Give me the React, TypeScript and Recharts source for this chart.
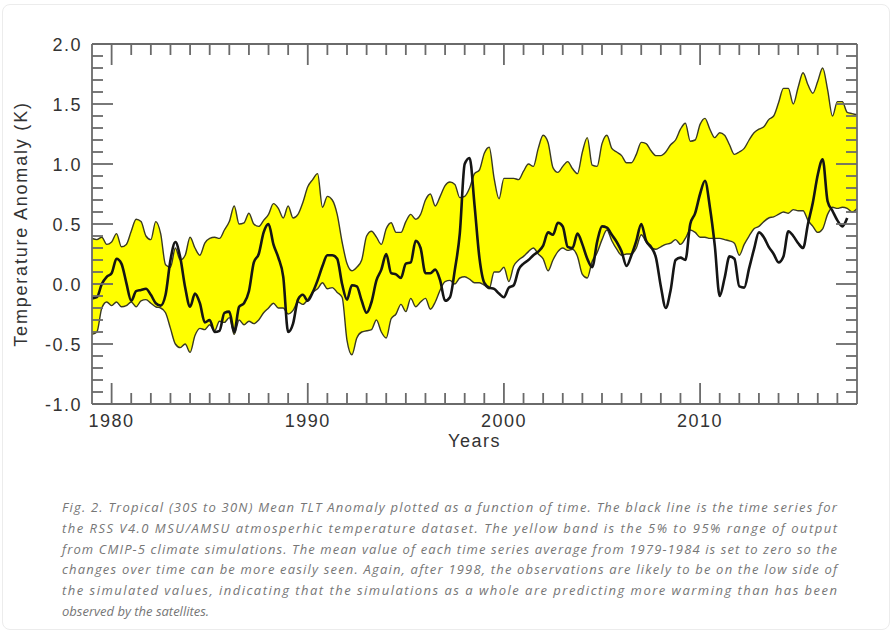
import React from 'react';
import { ComposedChart, Area, Line, XAxis, YAxis, Label } from 'recharts';

// Quarter-year samples from 1979.00 to 2018.00 (157 points)
// CMIP-5 5%-95% band: upper edge
const UPPER = [
  0.38, 0.37, 0.39, 0.33,
  0.35, 0.42, 0.31, 0.33,
  0.44, 0.54, 0.52, 0.40,
  0.37, 0.52, 0.42, 0.16,
  0.14, 0.30, 0.20, 0.24,
  0.39, 0.30, 0.24, 0.34,
  0.38, 0.39, 0.38, 0.45,
  0.52, 0.65, 0.50, 0.51,
  0.59, 0.50, 0.48, 0.53,
  0.58, 0.67, 0.63, 0.55,
  0.65, 0.55, 0.58, 0.68,
  0.81, 0.87, 0.92, 0.64,
  0.73, 0.70, 0.58, 0.35,
  0.17, 0.11, 0.14, 0.20,
  0.40, 0.44, 0.39, 0.33,
  0.46, 0.51, 0.43, 0.43,
  0.52, 0.58, 0.54, 0.58,
  0.70, 0.75, 0.65, 0.73,
  0.82, 0.85, 0.83, 0.72,
  0.73, 0.80, 0.92, 0.95,
  1.09, 1.14, 0.88, 0.71,
  0.88, 0.88, 0.88, 0.87,
  0.94, 1.00, 0.98, 1.13,
  1.24, 1.18, 0.97, 0.93,
  0.98, 1.02, 0.96, 0.92,
  1.10, 1.22, 0.99, 0.98,
  1.17, 1.24, 1.13, 1.10,
  1.07, 1.01, 1.01, 1.08,
  1.18, 1.17, 1.11, 1.07,
  1.07, 1.10, 1.16, 1.20,
  1.29, 1.34, 1.19, 1.20,
  1.33, 1.38, 1.29, 1.22,
  1.26, 1.24, 1.16, 1.08,
  1.10, 1.13, 1.20, 1.26,
  1.29, 1.31, 1.37, 1.40,
  1.51, 1.63, 1.63, 1.50,
  1.64, 1.76, 1.66, 1.59,
  1.69, 1.80, 1.62, 1.40,
  1.52, 1.52, 1.43, 1.42,
  1.41,
];

// CMIP-5 band: lower edge
const LOWER = [
  -0.42, -0.40, -0.20, -0.15,
  -0.18, -0.15, -0.19, -0.18,
  -0.15, -0.19, -0.14, -0.13,
  -0.16, -0.19, -0.20, -0.24,
  -0.37, -0.50, -0.53, -0.50,
  -0.57, -0.43, -0.37, -0.38,
  -0.34, -0.39, -0.31, -0.32,
  -0.28, -0.42, -0.30, -0.34,
  -0.31, -0.33, -0.30, -0.24,
  -0.20, -0.16, -0.20, -0.20,
  -0.25, -0.22, -0.15, -0.17,
  -0.13, -0.07, -0.04, 0.01,
  -0.04, -0.03, -0.07, -0.11,
  -0.47, -0.59, -0.45, -0.40,
  -0.39, -0.38, -0.30, -0.40,
  -0.45, -0.29, -0.25, -0.17,
  -0.23, -0.12, -0.19, -0.15,
  -0.12, -0.21, -0.15, -0.05,
  0.02, 0.03, 0.00, 0.05,
  0.06, 0.04, 0.01, 0.01,
  -0.01, -0.04, 0.10, 0.10,
  0.14, 0.02, 0.15, 0.20,
  0.23, 0.27, 0.30, 0.25,
  0.21, 0.11, 0.20, 0.27,
  0.30, 0.28, 0.29, 0.23,
  0.08, 0.05, 0.19, 0.26,
  0.37, 0.45, 0.36, 0.29,
  0.24, 0.25, 0.25, 0.30,
  0.41, 0.35, 0.30, 0.29,
  0.31, 0.33, 0.34, 0.37,
  0.33, 0.38, 0.45, 0.43,
  0.39, 0.39, 0.38, 0.38,
  0.38, 0.37, 0.36, 0.34,
  0.24, 0.33, 0.40, 0.46,
  0.48, 0.52, 0.55, 0.56,
  0.58, 0.60, 0.59, 0.62,
  0.61, 0.61, 0.53, 0.48,
  0.43, 0.46, 0.58, 0.64,
  0.63, 0.64, 0.63, 0.60,
  0.63,
];

// RSS V4.0 TLT tropical anomaly (black line)
const RSS = [
  -0.12, -0.11, 0.00, 0.06,
  0.09, 0.21, 0.17, 0.01,
  -0.14, -0.06, -0.05, -0.04,
  -0.09, -0.16, -0.18, -0.09,
  0.20, 0.35, 0.22, -0.03,
  -0.19, -0.08, -0.16, -0.32,
  -0.30, -0.40, -0.39, -0.24,
  -0.23, -0.40, -0.19, -0.16,
  -0.06, 0.18, 0.25, 0.43,
  0.50, 0.33, 0.22, 0.06,
  -0.40, -0.33, -0.13, -0.09,
  -0.14, -0.07, 0.03, 0.15,
  0.24, 0.24, 0.21, 0.00,
  -0.13, -0.01, -0.02, -0.14,
  -0.24, -0.15, 0.03, 0.12,
  0.25, 0.09, 0.08, 0.05,
  0.17, 0.18, 0.36, 0.30,
  0.09, 0.09, 0.12, 0.03,
  -0.14, -0.11, 0.12, 0.42,
  1.00, 1.05, 0.66, 0.22,
  0.01, -0.03, -0.04, -0.08,
  -0.11, -0.03, -0.01, 0.12,
  0.17, 0.20, 0.24, 0.27,
  0.32, 0.43, 0.41, 0.51,
  0.48, 0.31, 0.30, 0.42,
  0.33, 0.21, 0.14, 0.35,
  0.48, 0.47, 0.41, 0.35,
  0.27, 0.15, 0.24, 0.36,
  0.50, 0.36, 0.31, 0.22,
  -0.02, -0.20, -0.05, 0.20,
  0.22, 0.20, 0.50, 0.59,
  0.75, 0.86, 0.64, 0.32,
  -0.10, 0.05, 0.23, 0.21,
  -0.02, -0.03, 0.13, 0.29,
  0.43, 0.39, 0.31, 0.25,
  0.18, 0.23, 0.44, 0.40,
  0.34, 0.30, 0.50, 0.68,
  0.91, 1.04, 0.69, 0.61,
  0.53, 0.48, 0.55, null,
  null,
];

const START_YEAR = 1979;
const STEP = 0.25;
const MAJOR_YEARS = [1980, 1990, 2000, 2010];
const YEAR_TICKS = Array.from({ length: 38 }, (_, i) => 1980 + i);
const Y_TICKS = Array.from({ length: 31 }, (_, i) => Math.round((-1 + i * 0.1) * 10) / 10);
const Y_LABEL = 'Temperature Anomaly (K)';
const X_LABEL = 'Years';

const CAPTION_LINES = [
  'Fig. 2. Tropical (30S to 30N) Mean TLT Anomaly plotted as a function of time.  The black line is the time series for',
  'the  RSS V4.0 MSU/AMSU atmosperhic temperature dataset.  The yellow band is the 5% to 95% range of output',
  'from CMIP-5 climate simulations.  The mean value of each time series average from 1979-1984 is set to zero so the',
  'changes over time can be more easily seen. Again, after 1998, the observations are likely to be on the low side of',
  'the simulated values, indicating that the simulations as a whole are predicting more warming than has been',
  'observed by the satellites.',
];

const data = UPPER.map((hi, i) => ({
  year: START_YEAR + i * STEP,
  band: [LOWER[i], hi],
  rss: RSS[i],
}));

const AXIS = '#6a6a6a';
const AXIS_W = 1.8;
const TXT = '#333';
const FONT = '"Liberation Sans", Arial, Helvetica, sans-serif';
const MINOR = 11;
const MAJOR = 21;

const isMajorY = (v: number) => Math.abs(v * 2 - Math.round(v * 2)) < 1e-6;

const BottomTick = (p: any) => {
  const { x, y, payload } = p;
  const v = payload.value;
  const major = MAJOR_YEARS.includes(v);
  return (
    <g>
      <line x1={x} y1={y} x2={x} y2={y - (major ? MAJOR : MINOR)} stroke={AXIS} strokeWidth={AXIS_W} />
      {major && (
        <text x={x} y={y + 23} textAnchor="middle" fontFamily={FONT} fontSize={18} letterSpacing={1.5} fill={TXT}>
          {v}
        </text>
      )}
    </g>
  );
};

const TopTick = (p: any) => {
  const { x, y, payload } = p;
  const major = MAJOR_YEARS.includes(payload.value);
  return <line x1={x} y1={y} x2={x} y2={y + (major ? MAJOR : MINOR)} stroke={AXIS} strokeWidth={AXIS_W} />;
};

const LeftTick = (p: any) => {
  const { x, y, payload } = p;
  const v = payload.value as number;
  const major = isMajorY(v);
  return (
    <g>
      <line x1={x} y1={y} x2={x + (major ? MAJOR : MINOR)} y2={y} stroke={AXIS} strokeWidth={AXIS_W} />
      {major && (
        <text x={x - 10} y={y + 6.5} textAnchor="end" fontFamily={FONT} fontSize={18} letterSpacing={1.5} fill={TXT}>
          {v.toFixed(1)}
        </text>
      )}
    </g>
  );
};

const RightTick = (p: any) => {
  const { x, y, payload } = p;
  const major = isMajorY(payload.value);
  return <line x1={x} y1={y} x2={x - (major ? MAJOR : MINOR)} y2={y} stroke={AXIS} strokeWidth={AXIS_W} />;
};

const YTitle = (p: any) => {
  const vb = p.viewBox || { x: 0, y: 44, width: 92, height: 360 };
  const cx = vb.x + 27;
  const cy = vb.y + vb.height / 2;
  return (
    <text x={cx} y={cy} transform={`rotate(-90 ${cx} ${cy})`} textAnchor="middle" fontFamily={FONT} fontSize={18} letterSpacing={1.8} fill={TXT}>
      {Y_LABEL}
    </text>
  );
};

const XTitle = (p: any) => {
  const vb = p.viewBox || { x: 92, y: 404, width: 765, height: 66 };
  return (
    <text x={vb.x + vb.width / 2} y={vb.y + 43} textAnchor="middle" fontFamily={FONT} fontSize={18} letterSpacing={1.5} fill={TXT}>
      {X_LABEL}
    </text>
  );
};

export default function App() {
  return (
    <div style={{ position: 'absolute', left: 0, top: 0, width: 894, height: 634, background: '#fff', overflow: 'hidden' }}>
      <div
        style={{
          position: 'absolute',
          left: 2,
          top: 4,
          width: 888,
          height: 626,
          border: '1px solid #ececec',
          borderRadius: 8,
          boxSizing: 'border-box',
        }}
      />
      <div style={{ position: 'absolute', left: 0, top: 0 }}>
        <ComposedChart width={894} height={470} data={data} margin={{ top: 42, right: 35, bottom: 0, left: 0 }}>
          <Area
            xAxisId="b"
            yAxisId="l"
            dataKey="band"
            type="monotone"
            fill="#ffff00"
            fillOpacity={1}
            stroke="#3a3a22"
            strokeWidth={1.4}
            dot={false}
            activeDot={false}
            isAnimationActive={false}
          />
          <Line
            xAxisId="b"
            yAxisId="l"
            dataKey="rss"
            type="monotone"
            stroke="#151515"
            strokeWidth={2.6}
            dot={false}
            activeDot={false}
            isAnimationActive={false}
          />
          <XAxis
            xAxisId="b"
            dataKey="year"
            type="number"
            domain={[1979, 2018]}
            allowDataOverflow
            ticks={YEAR_TICKS}
            interval={0}
            height={66}
            tickSize={0}
            tickMargin={0}
            tickLine={false}
            axisLine={{ stroke: AXIS, strokeWidth: AXIS_W }}
            tick={(p: any) => <BottomTick {...p} />}
          >
            <Label content={(p: any) => <XTitle {...p} />} />
          </XAxis>
          <XAxis
            xAxisId="t"
            orientation="top"
            dataKey="year"
            type="number"
            domain={[1979, 2018]}
            allowDataOverflow
            ticks={YEAR_TICKS}
            interval={0}
            height={2}
            tickSize={0}
            tickMargin={0}
            tickLine={false}
            axisLine={{ stroke: AXIS, strokeWidth: AXIS_W }}
            tick={(p: any) => <TopTick {...p} />}
          />
          <YAxis
            yAxisId="l"
            type="number"
            domain={[-1, 2]}
            allowDataOverflow
            ticks={Y_TICKS}
            interval={0}
            width={92}
            tickSize={0}
            tickMargin={0}
            tickLine={false}
            axisLine={{ stroke: AXIS, strokeWidth: AXIS_W }}
            tick={(p: any) => <LeftTick {...p} />}
          >
            <Label content={(p: any) => <YTitle {...p} />} />
          </YAxis>
          <YAxis
            yAxisId="r"
            orientation="right"
            type="number"
            domain={[-1, 2]}
            allowDataOverflow
            ticks={Y_TICKS}
            interval={0}
            width={2}
            tickSize={0}
            tickMargin={0}
            tickLine={false}
            axisLine={{ stroke: AXIS, strokeWidth: AXIS_W }}
            tick={(p: any) => <RightTick {...p} />}
          />
        </ComposedChart>
      </div>
      <svg width={894} height={164} style={{ position: 'absolute', left: 0, top: 470 }}>
        {CAPTION_LINES.map((t, i) => (
          <text
            key={i}
            x={62}
            y={42 + i * 20.8}
            textLength={i < CAPTION_LINES.length - 1 ? 775 : undefined}
            lengthAdjust="spacing"
            fontFamily='"Open Sans", "Noto Sans", sans-serif'
            fontStyle="italic"
            fontSize={13}
            fill="#767676"
          >
            {t}
          </text>
        ))}
      </svg>
    </div>
  );
}
